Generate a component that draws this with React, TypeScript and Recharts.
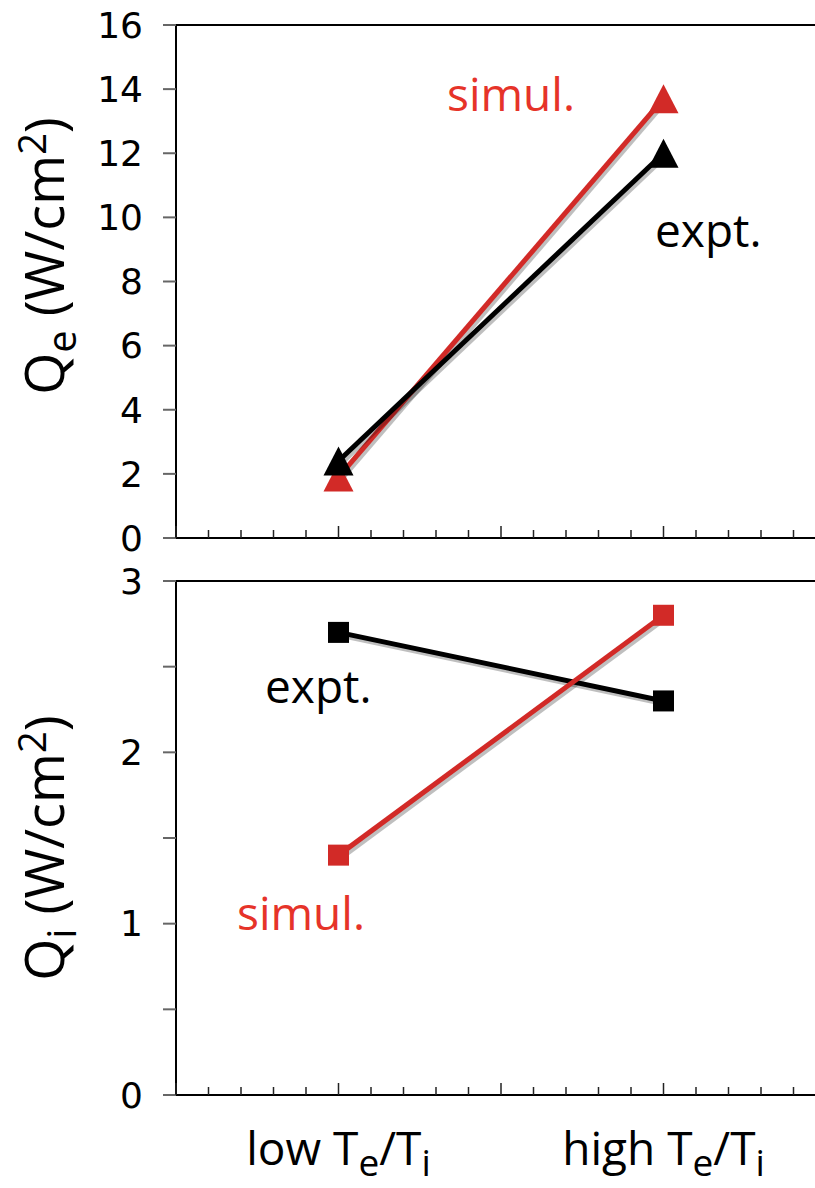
import React from 'react';
import {
    LineChart,
    Line,
    XAxis,
    YAxis,
    ReferenceLine,
} from 'recharts';

// two operating points along the x axis
const categories = ['low', 'high'];

// electron heat flux, W/cm^2
const qeExpt = [2.4, 12.0];
const qeSimul = [1.9, 13.7];

// ion heat flux, W/cm^2
const qiExpt = [2.7, 2.3];
const qiSimul = [1.4, 2.8];

const qeTicks = [0, 2, 4, 6, 8, 10, 12, 14, 16];
const qiTicks = [0, 0.5, 1, 1.5, 2, 2.5, 3];

const RED = '#d22a27';
const RED_TEXT = '#e63329';
const TEXT_FONT = '"Open Sans", sans-serif';
const TICK_FONT = '"DejaVu Sans", sans-serif';

// minor ticks every 0.2 along x, majors on the integers
const xTicks: number[] = [];
for (let i = 0; i <= 20; i++) xTicks.push(i / 5);

const buildRows = (expt: number[], simul: number[]) =>
    categories.map((c, i) => ({
        name: c,
        x: i * 2 + 1,
        expt: expt[i],
        simul: simul[i],
    }));

const qeRows = buildRows(qeExpt, qeSimul);
const qiRows = buildRows(qiExpt, qiSimul);

const Triangle = (props: any) => {
    const { cx, cy, fill } = props;
    if (cx == null || cy == null) return null;
    const w = 30;
    const h = 29;
    return (
        <polygon
            points={`${cx},${cy - h / 2} ${cx + w / 2},${cy + h / 2} ${cx - w / 2},${cy + h / 2}`}
            fill={fill}
        />
    );
};

const Square = (props: any) => {
    const { cx, cy, fill } = props;
    if (cx == null || cy == null) return null;
    const s = 21;
    return <rect x={cx - s / 2} y={cy - s / 2} width={s} height={s} fill={fill} />;
};

// ticks drawn upward from the axis line
const InnerTick = (props: any) => {
    const { x, y, payload } = props;
    const v = payload.value;
    const major = Math.abs(v - Math.round(v)) < 1e-6;
    const len = major ? 12 : 8;
    return <line x1={x} x2={x} y1={y} y2={y - len} stroke="#222" strokeWidth={1.5} />;
};

const CategoryTick = (props: any) => {
    const { x, y, payload } = props;
    const idx = qiRows.findIndex((r) => r.x === payload.value);
    return (
        <g>
            <InnerTick {...props} />
            {idx >= 0 && (
                <text
                    x={x}
                    y={y + 70}
                    textAnchor="middle"
                    fontFamily={TEXT_FONT}
                    fontSize={46}
                    fill="#000"
                >
                    {categories[idx]} T
                    <tspan fontSize={37} dy={11}>e</tspan>
                    <tspan dy={-11}>/T</tspan>
                    <tspan fontSize={37} dy={11}>i</tspan>
                </text>
            )}
        </g>
    );
};

const yAxisCommon = {
    width: 176,
    axisLine: { stroke: '#000', strokeWidth: 2 },
    tickLine: { stroke: '#666', strokeWidth: 2 },
    tickSize: 13,
    tickMargin: 20,
    interval: 0 as const,
    tick: { fontFamily: TICK_FONT, fontSize: 36, fill: '#000' },
};

const xAxisCommon = {
    dataKey: 'x',
    type: 'number' as const,
    domain: [0, 4],
    ticks: xTicks,
    interval: 0 as const,
    tickLine: false,
    tickSize: 0,
    tickMargin: 0,
    axisLine: { stroke: '#000', strokeWidth: 2 },
};

const AxisTitle = ({ cy, sub }: { cy: number; sub: string }) => (
    <text transform={`translate(64,${cy}) rotate(-90)`} textAnchor="middle" fill="#000">
        Q<tspan fontSize={40} dy={12}>{sub}</tspan>
        <tspan dy={-12}> (W/cm</tspan>
        <tspan fontSize={38} dy={-18}>2</tspan>
        <tspan dy={18}>)</tspan>
    </text>
);

const App = () => {
    return (
        <div
            style={{
                position: 'absolute',
                left: 0,
                top: 0,
                width: 815,
                height: 1188,
                overflow: 'hidden',
                background: '#fff',
            }}
        >
            <style>{'.flux .recharts-line { filter: drop-shadow(2px 3px 0 rgba(0,0,0,0.25)); }'}</style>

            <div className="flux" style={{ position: 'absolute', left: 0, top: 0 }}>
                <LineChart
                    width={900}
                    height={560}
                    data={qeRows}
                    margin={{ top: 25, right: 74, bottom: 0, left: 0 }}
                >
                    <XAxis {...xAxisCommon} height={22} tick={<InnerTick />} />
                    <YAxis {...yAxisCommon} domain={[0, 16]} ticks={qeTicks} />
                    <ReferenceLine y={16} stroke="#000" strokeWidth={2} />
                    <Line
                        dataKey="simul"
                        stroke={RED}
                        strokeWidth={5}
                        dot={<Triangle fill={RED} />}
                        isAnimationActive={false}
                    />
                    <Line
                        dataKey="expt"
                        stroke="#000"
                        strokeWidth={5}
                        dot={<Triangle fill="#000" />}
                        isAnimationActive={false}
                    />
                </LineChart>
            </div>

            <div className="flux" style={{ position: 'absolute', left: 0, top: 556 }}>
                <LineChart
                    width={900}
                    height={632}
                    data={qiRows}
                    margin={{ top: 25, right: 74, bottom: 0, left: 0 }}
                >
                    <XAxis {...xAxisCommon} height={93} tick={<CategoryTick />} />
                    <YAxis
                        {...yAxisCommon}
                        domain={[0, 3]}
                        ticks={qiTicks}
                        tickFormatter={(v: number) => (Number.isInteger(v) ? String(v) : '')}
                    />
                    <ReferenceLine y={3} stroke="#000" strokeWidth={2} />
                    <Line
                        dataKey="expt"
                        stroke="#000"
                        strokeWidth={5}
                        dot={<Square fill="#000" />}
                        isAnimationActive={false}
                    />
                    <Line
                        dataKey="simul"
                        stroke={RED}
                        strokeWidth={5}
                        dot={<Square fill={RED} />}
                        isAnimationActive={false}
                    />
                </LineChart>
            </div>

            <svg
                width={815}
                height={1188}
                style={{ position: 'absolute', left: 0, top: 0, pointerEvents: 'none' }}
                fontFamily={TEXT_FONT}
                fontSize={54}
            >
                <g fontSize={46}>
                    <text x={447} y={111} fill={RED_TEXT}>simul.</text>
                    <text x={655} y={247} fill="#000">expt.</text>
                    <text x={265} y={703} fill="#000">expt.</text>
                    <text x={237} y={930} fill={RED_TEXT}>simul.</text>
                </g>

                <AxisTitle cy={256} sub="e" />
                <AxisTitle cy={848} sub="i" />
            </svg>
        </div>
    );
};

export default App;
